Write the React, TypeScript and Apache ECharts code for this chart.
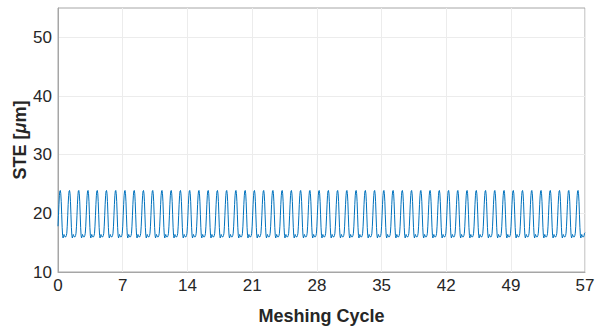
import React, { useEffect, useRef } from "react";
import * as echarts from "echarts";

const cycleShape: number[] = [
  17.8, 19.6, 21.5, 23.0, 23.8, 23.9, 23.4, 22.0, 19.8, 17.6,
  16.2, 15.8, 16.1, 16.4, 16.2, 16.0, 16.0, 16.0, 16.2, 16.6,
];
const cycleCount = 57;
const lastValue = 16.7;
const xTicks: number[] = [0, 7, 14, 21, 28, 35, 42, 49, 57];
const yTicks: number[] = [10, 20, 30, 40, 50];

const buildData = (): [number, number][] => {
  const out: [number, number][] = [];
  const n = cycleShape.length;
  for (let c = 0; c < cycleCount; c++) {
    for (let i = 0; i < n; i++) {
      out.push([c + i / n, cycleShape[i]]);
    }
  }
  out.push([cycleCount, lastValue]);
  return out;
};

export default function App() {
  const ref = useRef<HTMLDivElement>(null);
  useEffect(() => {
    if (!ref.current) return;
    const chart = echarts.init(ref.current, undefined, { renderer: "svg" });
    const font = "'Liberation Sans', Arial, Helvetica, sans-serif";
    chart.setOption({
      animation: false,
      backgroundColor: "#ffffff",
      textStyle: { fontFamily: font },
      grid: {
        left: 58,
        right: 11,
        top: 8,
        bottom: 60,
        outerBoundsMode: "none",
        containLabel: false,
        show: true,
        borderColor: "#a6a6a6",
        borderWidth: 1,
        backgroundColor: "transparent",
      },
      xAxis: {
        type: "value",
        min: 0,
        max: 57,
        name: "Meshing Cycle",
        nameLocation: "middle",
        nameGap: 35,
        nameMoveOverlap: false,
        nameTextStyle: { fontFamily: font, fontSize: 18, fontWeight: "bold", color: "#262626" },
        axisLine: { show: true, lineStyle: { color: "#a6a6a6", width: 1 } },
        axisTick: { show: false, customValues: xTicks },
        axisLabel: {
          fontFamily: font,
          fontSize: 17,
          color: "#262626",
          margin: 5,
          customValues: xTicks,
        },
        splitLine: { show: true, lineStyle: { color: "#ececec", width: 1 } },
      },
      yAxis: {
        type: "value",
        min: 10,
        max: 55,
        name: "STE [{i|μ}m]",
        nameLocation: "middle",
        nameGap: 29,
        nameMoveOverlap: false,
        nameRotate: 90,
        nameTextStyle: {
          fontFamily: font,
          fontSize: 18,
          fontWeight: "bold",
          color: "#262626",
          rich: {
            i: { fontFamily: font, fontSize: 18, fontWeight: "bold", fontStyle: "italic", color: "#262626" },
          },
        },
        axisLine: { show: true, lineStyle: { color: "#a6a6a6", width: 1 } },
        axisTick: { show: false, customValues: yTicks },
        axisLabel: {
          fontFamily: font,
          fontSize: 17,
          color: "#262626",
          margin: 6,
          customValues: yTicks,
        },
        splitLine: { show: true, lineStyle: { color: "#ececec", width: 1 } },
      },
      series: [
        {
          type: "line",
          data: buildData(),
          showSymbol: false,
          smooth: false,
          lineStyle: { color: "#0072BD", width: 1 },
          itemStyle: { color: "#0072BD" },
        },
      ],
    });
    return () => chart.dispose();
  }, []);
  return <div ref={ref} style={{ width: 596, height: 332, position: "absolute", left: 0, top: 0 }} />;
}
